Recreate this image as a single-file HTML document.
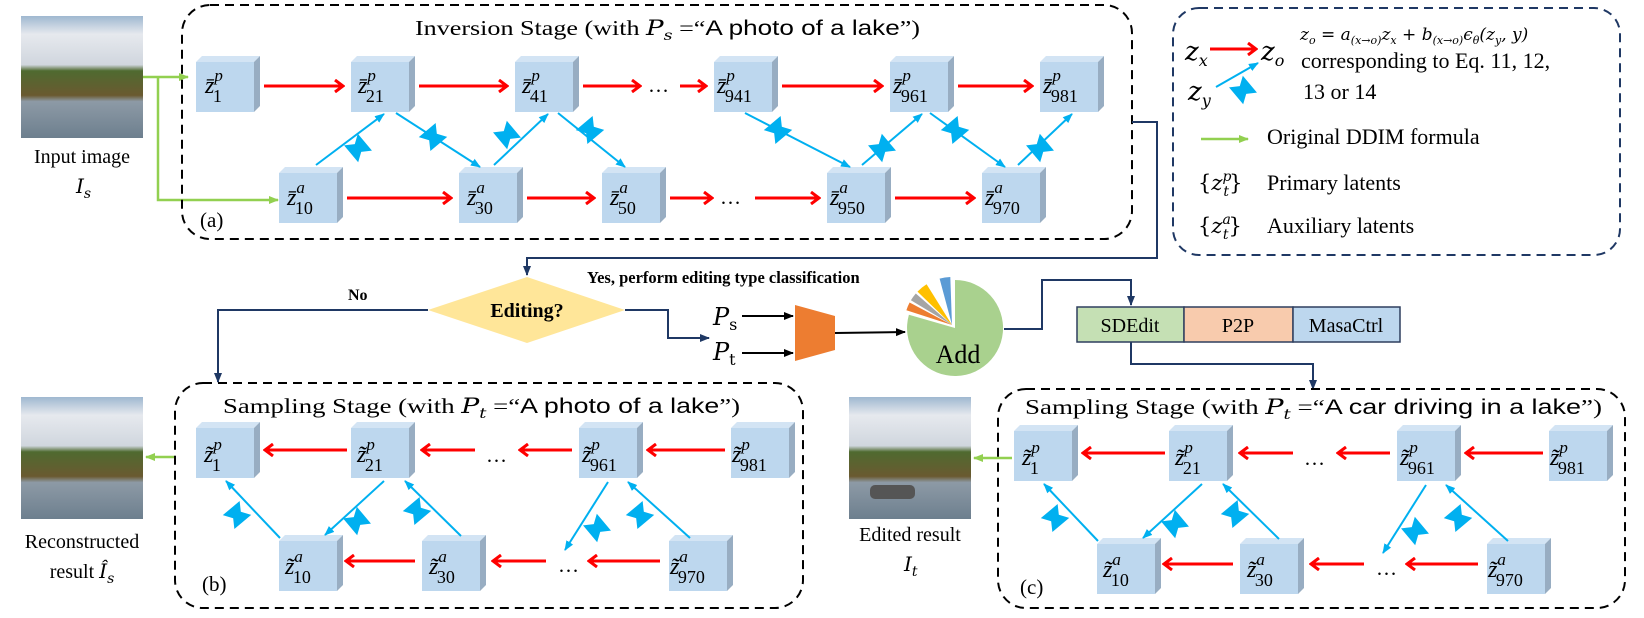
<!DOCTYPE html>
<html><head><meta charset="utf-8"><style>
body{margin:0;background:#fff}
svg{display:block}
text{font-family:"Liberation Serif",serif;fill:#000}
.m{font-family:"DejaVu Serif","Liberation Serif",serif;font-style:italic}
.s{font-family:"Liberation Sans",sans-serif}
</style></head><body>
<svg width="1644" height="618" viewBox="0 0 1644 618" xmlns="http://www.w3.org/2000/svg">
<defs>
<g id="c"><polygon points="0,0 6,-6 64,-6 58,0" fill="#d3e4f4"/><polygon points="58,0 64,-6 64,44 58,50" fill="#98adc2"/><rect width="58" height="50" fill="#bdd7ee"/></g>
<polygon id="bt" points="-11,-9 11,-9 5,0 11,9 -11,9 -5,0" fill="#00b0f0"/>
<marker id="ar" markerWidth="12" markerHeight="14" refX="10" refY="7" orient="auto" markerUnits="userSpaceOnUse"><path d="M2,1 L10,7 L2,13" fill="none" stroke="#f00" stroke-width="3"/></marker>
<marker id="ab" markerWidth="10" markerHeight="10" refX="9" refY="5" orient="auto" markerUnits="userSpaceOnUse"><path d="M0,1 L10,5 L0,9z" fill="#00b0f0"/></marker>
<marker id="ag" markerWidth="10" markerHeight="10" refX="9" refY="5" orient="auto" markerUnits="userSpaceOnUse"><path d="M0,1 L10,5 L0,9z" fill="#92d050"/></marker>
<marker id="an" markerWidth="10" markerHeight="10" refX="9" refY="5" orient="auto" markerUnits="userSpaceOnUse"><path d="M0,1 L10,5 L0,9z" fill="#1f3864"/></marker>
<marker id="ak" markerWidth="10" markerHeight="10" refX="9" refY="5" orient="auto" markerUnits="userSpaceOnUse"><path d="M0,1 L10,5 L0,9z" fill="#000"/></marker>
<linearGradient id="sky" x1="0" y1="0" x2="0" y2="1"><stop offset="0" stop-color="#9fb8d0"/><stop offset="0.15" stop-color="#e6e9ee"/><stop offset="0.4" stop-color="#d0d6de"/><stop offset="0.45" stop-color="#4f6a30"/><stop offset="0.65" stop-color="#6a5a30"/><stop offset="0.7" stop-color="#8d9aa6"/><stop offset="1" stop-color="#6d7f8e"/></linearGradient>
</defs>

<rect x="21" y="16" width="122" height="122" fill="url(#sky)"/>
<rect x="21" y="397" width="122" height="122" fill="url(#sky)"/>
<rect x="849" y="397" width="122" height="122" fill="url(#sky)"/>
<rect x="870" y="485" width="45" height="14" rx="5" fill="#555"/>
<text x="82" y="163" font-size="20" text-anchor="middle">Input image</text>
<text x="76" y="193" font-size="20" class="m">I<tspan font-size="14" dy="5">s</tspan></text>
<text x="82" y="548" font-size="20" text-anchor="middle">Reconstructed</text>
<text x="82" y="578" font-size="20" text-anchor="middle">result <tspan class="m">Î</tspan><tspan class="m" font-size="14" dy="5">s</tspan></text>
<text x="910" y="541" font-size="20" text-anchor="middle">Edited result</text>
<text x="904" y="571" font-size="20" class="m">I<tspan font-size="14" dy="5">t</tspan></text>

<g stroke="#92d050" stroke-width="2.5" fill="none">
<path d="M143,77 H188" marker-end="url(#ag)"/>
<path d="M158,77 V200 H278" marker-end="url(#ag)"/>
<path d="M176,457 H146" marker-end="url(#ag)"/>
<path d="M1012,458 H974" marker-end="url(#ag)"/>
<path d="M1201,139 H1248" marker-end="url(#ag)"/>
</g>

<rect x="182" y="5" width="950" height="234" rx="28" fill="none" stroke="#000" stroke-width="2" stroke-dasharray="9,6"/>
<text x="415" y="35" font-size="21" textLength="505" lengthAdjust="spacingAndGlyphs">Inversion Stage (with <tspan class="m">P</tspan><tspan class="m" font-size="14" dy="5">s</tspan><tspan dy="-5"> =“</tspan><tspan class="s">A photo of a lake</tspan>”)</text>
<text x="200" y="227" font-size="21">(a)</text>
<use href="#c" x="196" y="62"/><use href="#c" x="351" y="62"/><use href="#c" x="515" y="62"/><use href="#c" x="714" y="62"/><use href="#c" x="890" y="62"/><use href="#c" x="1040" y="62"/>
<use href="#c" x="279" y="173"/><use href="#c" x="459" y="173"/><use href="#c" x="602" y="173"/><use href="#c" x="827" y="173"/><use href="#c" x="982" y="173"/>
<g font-size="24" class="m">
<text x="205" y="93">z̄<tspan font-size="17" dy="-12">p</tspan><tspan font-size="18" dx="-10" dy="21" font-style="normal">1</tspan></text>
<text x="358" y="93">z̄<tspan font-size="17" dy="-12">p</tspan><tspan font-size="18" dx="-10" dy="21" font-style="normal">21</tspan></text>
<text x="522" y="93">z̄<tspan font-size="17" dy="-12">p</tspan><tspan font-size="18" dx="-10" dy="21" font-style="normal">41</tspan></text>
<text x="717" y="93">z̄<tspan font-size="17" dy="-12">p</tspan><tspan font-size="18" dx="-10" dy="21" font-style="normal">941</tspan></text>
<text x="893" y="93">z̄<tspan font-size="17" dy="-12">p</tspan><tspan font-size="18" dx="-10" dy="21" font-style="normal">961</tspan></text>
<text x="1043" y="93">z̄<tspan font-size="17" dy="-12">p</tspan><tspan font-size="18" dx="-10" dy="21" font-style="normal">981</tspan></text>
<text x="287" y="205">z̄<tspan font-size="17" dy="-12">a</tspan><tspan font-size="18" dx="-10" dy="21" font-style="normal">10</tspan></text>
<text x="467" y="205">z̄<tspan font-size="17" dy="-12">a</tspan><tspan font-size="18" dx="-10" dy="21" font-style="normal">30</tspan></text>
<text x="610" y="205">z̄<tspan font-size="17" dy="-12">a</tspan><tspan font-size="18" dx="-10" dy="21" font-style="normal">50</tspan></text>
<text x="830" y="205">z̄<tspan font-size="17" dy="-12">a</tspan><tspan font-size="18" dx="-10" dy="21" font-style="normal">950</tspan></text>
<text x="985" y="205">z̄<tspan font-size="17" dy="-12">a</tspan><tspan font-size="18" dx="-10" dy="21" font-style="normal">970</tspan></text>
</g>
<text x="648" y="92" font-size="21">…</text>
<text x="720" y="204" font-size="21">…</text>
<g stroke="#f00" stroke-width="3" marker-end="url(#ar)">
<line x1="264" y1="86" x2="343" y2="86"/><line x1="419" y1="86" x2="507" y2="86"/><line x1="583" y1="86" x2="640" y2="86"/><line x1="680" y1="86" x2="706" y2="86"/><line x1="782" y1="86" x2="882" y2="86"/><line x1="958" y1="86" x2="1032" y2="86"/>
<line x1="347" y1="198" x2="451" y2="198"/><line x1="527" y1="198" x2="594" y2="198"/><line x1="670" y1="198" x2="712" y2="198"/><line x1="755" y1="198" x2="819" y2="198"/><line x1="895" y1="198" x2="974" y2="198"/>
</g>
<g stroke="#00b0f0" stroke-width="2" marker-end="url(#ab)">
<line x1="316" y1="165" x2="384" y2="114"/><line x1="396" y1="113" x2="480" y2="167"/>
<line x1="494" y1="165" x2="548" y2="114"/><line x1="558" y1="113" x2="625" y2="167"/>
<line x1="745" y1="113" x2="850" y2="167"/><line x1="862" y1="165" x2="922" y2="114"/>
<line x1="930" y1="113" x2="1005" y2="167"/><line x1="1018" y1="165" x2="1072" y2="114"/>
</g>
<use href="#bt" transform="translate(358,148) rotate(50)"/><use href="#bt" transform="translate(433,137) rotate(-40)"/>
<use href="#bt" transform="translate(507,135) rotate(50)"/><use href="#bt" transform="translate(590,130) rotate(-40)"/>
<use href="#bt" transform="translate(778,130) rotate(-40)"/><use href="#bt" transform="translate(882,148) rotate(50)"/>
<use href="#bt" transform="translate(955,130) rotate(-40)"/><use href="#bt" transform="translate(1040,148) rotate(50)"/>

<rect x="1173" y="8" width="447" height="247" rx="26" fill="none" stroke="#1f3864" stroke-width="2" stroke-dasharray="9,6"/>
<text x="1185" y="60" font-size="26" class="m">z<tspan font-size="16" dy="6">x</tspan></text>
<line x1="1210" y1="49" x2="1256" y2="49" stroke="#f00" stroke-width="3" marker-end="url(#ar)"/>
<text x="1261" y="60" font-size="26" class="m">z<tspan font-size="16" dy="6">o</tspan></text>
<text x="1188" y="100" font-size="26" class="m">z<tspan font-size="16" dy="6">y</tspan></text>
<line x1="1216" y1="87" x2="1258" y2="63" stroke="#00b0f0" stroke-width="2" marker-end="url(#ab)"/>
<use href="#bt" transform="translate(1243,90) rotate(50)"/>
<text x="1300" y="40" font-size="17" class="m">z<tspan font-size="11" dy="4">o</tspan><tspan dy="-4" font-style="normal"> = </tspan>a<tspan font-size="11" dy="4">(x→o)</tspan><tspan dy="-4">z</tspan><tspan font-size="11" dy="4">x</tspan><tspan dy="-4" font-style="normal"> + </tspan>b<tspan font-size="11" dy="4">(x→o)</tspan><tspan dy="-4">ϵ</tspan><tspan font-size="11" dy="4">θ</tspan><tspan dy="-4">(z</tspan><tspan font-size="11" dy="4">y</tspan><tspan dy="-4">, y)</tspan></text>
<text x="1301" y="68" font-size="22">corresponding to Eq. 11, 12,</text>
<text x="1303" y="99" font-size="22">13 or 14</text>
<text x="1267" y="144" font-size="22">Original DDIM formula</text>
<text x="1198" y="190" font-size="21" class="m"><tspan font-style="normal">{</tspan>z<tspan font-size="14" dy="-9">p</tspan><tspan font-size="14" dx="-8" dy="15">t</tspan><tspan font-style="normal" dy="-6">}</tspan></text>
<text x="1267" y="190" font-size="22">Primary latents</text>
<text x="1198" y="233" font-size="21" class="m"><tspan font-style="normal">{</tspan>z<tspan font-size="14" dy="-9">a</tspan><tspan font-size="14" dx="-8" dy="15">t</tspan><tspan font-style="normal" dy="-6">}</tspan></text>
<text x="1267" y="233" font-size="22">Auxiliary latents</text>

<g stroke="#1f3864" stroke-width="2" fill="none">
<path d="M1132,122 H1157 V258 H527 V275" marker-end="url(#an)"/>
<path d="M428,310 H218 V382" marker-end="url(#an)"/>
<path d="M625,310 H668 V338 H709" marker-end="url(#an)"/>
<path d="M1004,329 H1042 V280 H1131 V305" marker-end="url(#an)"/>
<path d="M1131,342 V364 H1313 V389" marker-end="url(#an)"/>
</g>
<polygon points="428,310 527,277 625,310 527,343" fill="#ffe699"/>
<text x="527" y="317" font-size="20" font-weight="bold" text-anchor="middle">Editing?</text>
<text x="348" y="300" font-size="16" font-weight="bold">No</text>
<text x="587" y="283" font-size="16.5" font-weight="bold">Yes, perform editing type classification</text>
<text x="713" y="325" font-size="24" class="m">P<tspan font-size="16" dy="5" font-style="normal">s</tspan></text>
<text x="713" y="360" font-size="24" class="m">P<tspan font-size="16" dy="5" font-style="normal">t</tspan></text>
<g stroke="#000" stroke-width="2" marker-end="url(#ak)">
<line x1="742" y1="316" x2="793" y2="316"/><line x1="742" y1="353" x2="793" y2="353"/><line x1="835" y1="333" x2="905" y2="332"/>
</g>
<polygon points="795,305 835,316 835,350 795,361" fill="#ed7d31"/>
<path d="M955,328 L955,280 A48,48 0 1 1 908.9,314.8 Z" fill="#a9d18e"/>
<path d="M952,325 L906.4,310.2 A48,48 0 0 1 909.6,302.5 Z" fill="#ed7d31"/>
<path d="M952,325 L910.9,300.3 A48,48 0 0 1 915.8,293.5 Z" fill="#a5a5a5"/>
<path d="M952,325 L917.5,291.6 A48,48 0 0 1 926.6,284.3 Z" fill="#ffc000"/>
<path d="M952,325 L939.6,278.6 A48,48 0 0 1 950.3,277 Z" fill="#5b9bd5"/>
<text x="958" y="363" font-size="26" text-anchor="middle">Add</text>
<rect x="1077" y="307" width="107" height="35" fill="#c5e0b4" stroke="#2f3f5f" stroke-width="1.5"/>
<rect x="1184" y="307" width="109" height="35" fill="#f8cbad" stroke="#2f3f5f" stroke-width="1.5"/>
<rect x="1293" y="307" width="107" height="35" fill="#bdd7ee" stroke="#2f3f5f" stroke-width="1.5"/>
<text x="1130" y="332" font-size="20" text-anchor="middle">SDEdit</text>
<text x="1238" y="332" font-size="20" text-anchor="middle">P2P</text>
<text x="1346" y="332" font-size="20" text-anchor="middle">MasaCtrl</text>

<rect x="175" y="383" width="628" height="225" rx="28" fill="none" stroke="#000" stroke-width="2" stroke-dasharray="9,6"/>
<text x="223" y="413" font-size="21" textLength="517" lengthAdjust="spacingAndGlyphs">Sampling Stage (with <tspan class="m">P</tspan><tspan class="m" font-size="14" dy="5">t</tspan><tspan dy="-5"> =“</tspan><tspan class="s">A photo of a lake</tspan>”)</text>
<text x="202" y="591" font-size="21">(b)</text>
<rect x="998" y="389" width="627" height="219" rx="28" fill="none" stroke="#000" stroke-width="2" stroke-dasharray="9,6"/>
<text x="1025" y="414" font-size="21" textLength="577" lengthAdjust="spacingAndGlyphs">Sampling Stage (with <tspan class="m">P</tspan><tspan class="m" font-size="14" dy="5">t</tspan><tspan dy="-5"> =“</tspan><tspan class="s">A car driving in a lake</tspan>”)</text>
<text x="1020" y="594" font-size="21">(c)</text>

<g id="sb">
<use href="#c" x="196" y="428"/><use href="#c" x="351" y="428"/><use href="#c" x="579" y="428"/><use href="#c" x="731" y="428"/>
<use href="#c" x="279" y="541"/><use href="#c" x="422" y="541"/><use href="#c" x="669" y="541"/>
<g font-size="24" class="m">
<text x="204" y="462">z̃<tspan font-size="17" dy="-12">p</tspan><tspan font-size="18" dx="-10" dy="21" font-style="normal">1</tspan></text>
<text x="357" y="462">z̃<tspan font-size="17" dy="-12">p</tspan><tspan font-size="18" dx="-10" dy="21" font-style="normal">21</tspan></text>
<text x="582" y="462">z̃<tspan font-size="17" dy="-12">p</tspan><tspan font-size="18" dx="-10" dy="21" font-style="normal">961</tspan></text>
<text x="732" y="462">z̃<tspan font-size="17" dy="-12">p</tspan><tspan font-size="18" dx="-10" dy="21" font-style="normal">981</tspan></text>
<text x="285" y="574">z̃<tspan font-size="17" dy="-12">a</tspan><tspan font-size="18" dx="-10" dy="21" font-style="normal">10</tspan></text>
<text x="429" y="574">z̃<tspan font-size="17" dy="-12">a</tspan><tspan font-size="18" dx="-10" dy="21" font-style="normal">30</tspan></text>
<text x="670" y="574">z̃<tspan font-size="17" dy="-12">a</tspan><tspan font-size="18" dx="-10" dy="21" font-style="normal">970</tspan></text>
</g>
<text x="486" y="462" font-size="21">…</text>
<text x="558" y="572" font-size="21">…</text>
<g stroke="#f00" stroke-width="3" marker-end="url(#ar)">
<line x1="347" y1="450" x2="265" y2="450"/><line x1="475" y1="450" x2="422" y2="450"/><line x1="572" y1="450" x2="520" y2="450"/><line x1="725" y1="450" x2="648" y2="450"/>
<line x1="415" y1="561" x2="346" y2="561"/><line x1="546" y1="561" x2="493" y2="561"/><line x1="660" y1="561" x2="589" y2="561"/>
</g>
<g stroke="#00b0f0" stroke-width="2" marker-end="url(#ab)">
<line x1="280" y1="538" x2="226" y2="481"/><line x1="384" y1="481" x2="325" y2="535"/>
<line x1="461" y1="536" x2="405" y2="481"/><line x1="608" y1="482" x2="565" y2="550"/>
<line x1="690" y1="538" x2="628" y2="482"/>
</g>
<use href="#bt" transform="translate(237,515) rotate(-40)"/><use href="#bt" transform="translate(357,521) rotate(50)"/>
<use href="#bt" transform="translate(417,511) rotate(-40)"/><use href="#bt" transform="translate(597,528) rotate(50)"/>
<use href="#bt" transform="translate(640,515) rotate(-40)"/>
</g>
<use href="#sb" x="818" y="3"/>
</svg>
</body></html>
